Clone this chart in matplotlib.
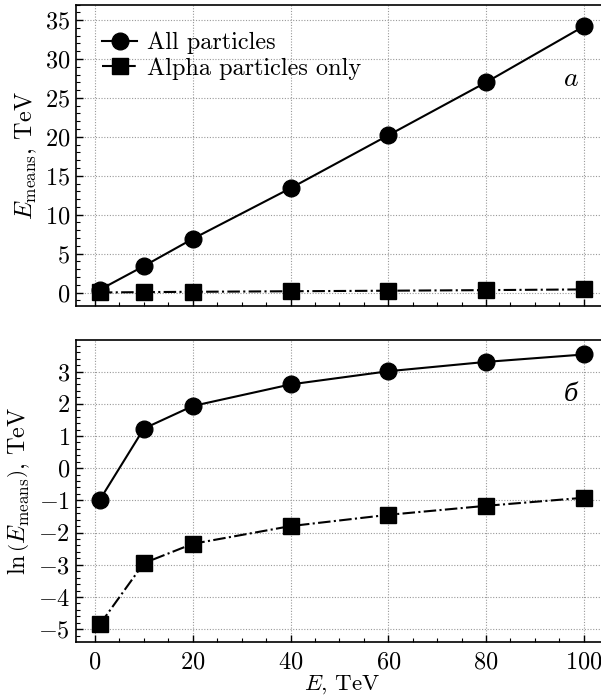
import matplotlib
matplotlib.use("Agg")
import matplotlib.pyplot as plt
from matplotlib.ticker import MultipleLocator

# Data
energy = [1, 10, 20, 40, 60, 80, 100]
mean_all = [0.37, 3.4, 6.9, 13.4, 20.2, 27.0, 34.2]
mean_alpha = [0.008, 0.052, 0.095, 0.165, 0.235, 0.31, 0.40]
ln_all = [-0.98, 1.23, 1.93, 2.60, 3.01, 3.30, 3.53]
ln_alpha = [-4.85, -2.95, -2.35, -1.80, -1.45, -1.17, -0.92]
labels = ["All particles", "Alpha particles only"]

plt.rcParams['font.family'] = ['cmr10', 'DejaVu Serif']
plt.rcParams['mathtext.fontset'] = 'cm'
plt.rcParams['axes.formatter.use_mathtext'] = True
plt.rcParams['axes.unicode_minus'] = True
plt.rcParams['font.size'] = 17.5

fig = plt.figure(figsize=(6.01, 6.98), dpi=100)
W, H = 601, 698
left = 75.7 / W
width = (608 - 75.7) / W
ax1 = fig.add_axes([left, 1 - 306 / H, width, (306 - 4.5) / H])
ax2 = fig.add_axes([left, 1 - 641.7 / H, width, (641.7 - 340) / H])

ms = 12
lw = 1.5
for ax, ya, yb in [(ax1, mean_all, mean_alpha), (ax2, ln_all, ln_alpha)]:
    ax.plot(energy, ya, color='black', lw=lw, marker='o', ms=ms, label=labels[0])
    ax.plot(energy, yb, color='black', lw=lw, ls=(0, (6, 1.6, 1, 1.6)), marker='s', ms=ms - 0.3, label=labels[1])
    ax.set_xlim(-3.95, 104.95)
    ax.xaxis.set_major_locator(MultipleLocator(20))
    ax.xaxis.set_minor_locator(MultipleLocator(5))
    ax.grid(True, which='major', color='#999999', ls=(0, (1, 1.5)), lw=0.8)
    ax.tick_params(which='both', direction='in', top=False, right=False, labelsize=17.5)
    ax.tick_params(which='major', length=5, width=1.0)
    ax.tick_params(which='minor', length=3, width=0.8)
    ax.tick_params(axis='x', which='both', pad=7)
    ax.tick_params(axis='y', which='both', pad=4)
    for s in ax.spines.values():
        s.set_linewidth(1.2)

ax1.set_ylim(-1.73, 37.0)
ax1.yaxis.set_major_locator(MultipleLocator(5))
ax1.yaxis.set_minor_locator(MultipleLocator(1))
ax1.tick_params(axis='x', labelbottom=False)
ax1.set_ylabel(r'$E_{\mathrm{means}}$, TeV', fontsize=17.5)
ax1.legend(loc='upper left', bbox_to_anchor=(0.031, 0.942), frameon=False, fontsize=17.5,
           handlelength=1.45, handletextpad=0.4, borderaxespad=0.0, borderpad=0.4,
           labelspacing=0.12)
ax1.text(0.93, 0.755, r'$a$', transform=ax1.transAxes, fontsize=20, ha='center', va='center')

ax2.set_ylim(-5.39, 3.98)
ax2.yaxis.set_major_locator(MultipleLocator(1))
ax2.yaxis.set_minor_locator(MultipleLocator(0.2))
ax2.set_ylabel(r'$\ln\left(E_{\mathrm{means}}\right)$, TeV', fontsize=17.5)
ax2.set_xlabel(r'$E$, TeV', fontsize=16.5, labelpad=0)
ax2.text(0.93, 0.82, 'б', transform=ax2.transAxes, fontsize=17, ha='center', va='center',
         style='italic', family=['DejaVu Serif'])

fig.align_ylabels([ax1, ax2])
fig.savefig('out.png', dpi=100)
